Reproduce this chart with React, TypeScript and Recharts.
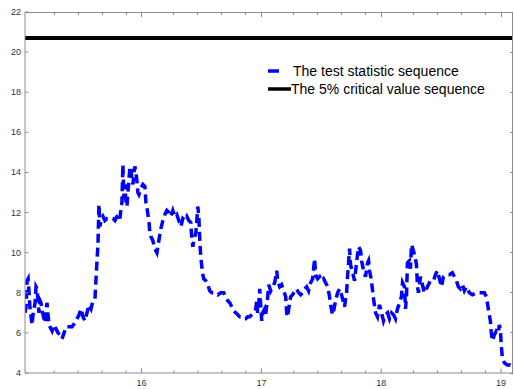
import React from 'react';
import { LineChart, Line, XAxis, YAxis, ReferenceLine } from 'recharts';

// time axis (years, 2-digit) and the test statistic
const years = [
  15.028, 15.036, 15.044, 15.053, 15.061, 15.069, 15.078, 15.086, 15.094, 15.111,
  15.119, 15.128, 15.136, 15.144, 15.153, 15.161, 15.169, 15.178, 15.186, 15.194,
  15.203, 15.211, 15.219, 15.228, 15.236, 15.253, 15.269, 15.286, 15.303, 15.319,
  15.336, 15.353, 15.369, 15.394, 15.419, 15.444, 15.461, 15.478, 15.494, 15.511,
  15.528, 15.544, 15.561, 15.578, 15.594, 15.611, 15.619, 15.628, 15.636, 15.644,
  15.653, 15.661, 15.678, 15.694, 15.711, 15.736, 15.761, 15.778, 15.794, 15.811,
  15.819, 15.828, 15.836, 15.844, 15.853, 15.861, 15.869, 15.878, 15.886, 15.894,
  15.903, 15.911, 15.919, 15.928, 15.936, 15.944, 15.953, 15.961, 15.969, 15.978,
  15.994, 16.011, 16.028, 16.036, 16.044, 16.053, 16.061, 16.069, 16.078, 16.094,
  16.111, 16.128, 16.144, 16.161, 16.178, 16.194, 16.211, 16.228, 16.244, 16.261,
  16.278, 16.294, 16.311, 16.328, 16.344, 16.361, 16.378, 16.394, 16.411, 16.419,
  16.428, 16.436, 16.453, 16.461, 16.469, 16.478, 16.486, 16.494, 16.503, 16.511,
  16.519, 16.536, 16.553, 16.569, 16.586, 16.611, 16.636, 16.661, 16.686, 16.703,
  16.719, 16.736, 16.753, 16.769, 16.786, 16.803, 16.819, 16.836, 16.853, 16.869,
  16.886, 16.903, 16.919, 16.936, 16.953, 16.961, 16.969, 16.978, 16.986, 16.994,
  17.003, 17.011, 17.028, 17.036, 17.053, 17.061, 17.078, 17.094, 17.111, 17.128,
  17.136, 17.153, 17.169, 17.186, 17.203, 17.211, 17.219, 17.228, 17.244, 17.261,
  17.278, 17.294, 17.311, 17.328, 17.344, 17.361, 17.378, 17.394, 17.411, 17.428,
  17.444, 17.453, 17.469, 17.486, 17.503, 17.519, 17.536, 17.553, 17.569, 17.578,
  17.594, 17.603, 17.619, 17.636, 17.653, 17.669, 17.686, 17.694, 17.703, 17.711,
  17.719, 17.728, 17.736, 17.744, 17.761, 17.778, 17.794, 17.811, 17.828, 17.836,
  17.853, 17.869, 17.886, 17.894, 17.903, 17.919, 17.928, 17.936, 17.953, 17.969,
  17.986, 18.003, 18.019, 18.036, 18.053, 18.069, 18.086, 18.103, 18.119, 18.136,
  18.153, 18.169, 18.178, 18.194, 18.203, 18.211, 18.219, 18.236, 18.244, 18.253,
  18.269, 18.286, 18.294, 18.303, 18.311, 18.328, 18.344, 18.361, 18.378, 18.394,
  18.411, 18.436, 18.453, 18.469, 18.486, 18.503, 18.519, 18.544, 18.569, 18.594,
  18.611, 18.628, 18.644, 18.661, 18.678, 18.694, 18.711, 18.736, 18.761, 18.794,
  18.828, 18.861, 18.878, 18.894, 18.911, 18.919, 18.928, 18.944, 18.961, 18.978,
  18.986, 18.994, 19.003, 19.011, 19.028, 19.053, 19.078, 19.094,
];

const testStat = [
  7.0, 7.3, 8.6, 8.7, 8.0, 7.2, 6.8, 6.4, 6.9, 7.5,
  8.3, 8.2, 7.5, 7.0, 7.6, 7.5, 7.1, 6.9, 6.7, 6.5,
  7.2, 7.5, 6.9, 6.4, 6.3, 6.1, 6.4, 6.2, 6.0, 5.9,
  5.7, 6.0, 6.3, 6.3, 6.3, 6.5, 6.7, 6.9, 7.2, 6.8,
  6.6, 7.0, 7.4, 7.2, 7.6, 7.7, 8.6, 9.6, 10.4, 12.4,
  11.3, 11.6, 11.8, 11.6, 11.7, 11.7, 11.7, 11.6, 11.8, 11.9,
  11.7, 12.2, 12.5, 14.4, 12.7, 13.4, 12.6, 12.3, 13.0, 13.6,
  14.3, 14.2, 13.7, 13.4, 14.0, 14.3, 14.0, 13.6, 13.0, 12.9,
  13.2, 13.4, 13.3, 12.5, 12.3, 11.9, 11.6, 11.0, 10.8, 10.6,
  10.2, 10.0, 10.6, 11.2, 11.6, 11.9, 12.1, 12.0, 11.8, 12.1,
  11.8, 11.9, 11.6, 11.3, 11.7, 11.6, 11.8, 11.6, 11.5, 10.7,
  10.3, 10.6, 11.0, 11.6, 12.3, 11.8, 10.6, 9.8, 9.3, 8.9,
  8.7, 8.6, 8.4, 8.1, 8.0, 8.0, 7.9, 8.0, 8.0, 7.8,
  7.6, 7.5, 7.3, 7.1, 7.0, 6.9, 6.8, 6.8, 6.7, 6.7,
  6.8, 6.8, 6.9, 7.0, 7.2, 7.6, 7.0, 7.4, 8.2, 7.4,
  6.6, 7.0, 7.2, 6.9, 7.8, 8.4, 8.1, 8.3, 8.5, 9.1,
  8.6, 8.3, 8.4, 8.1, 7.8, 7.0, 6.8, 7.2, 7.8, 7.9,
  8.1, 8.2, 8.0, 7.9, 8.0, 8.2, 8.3, 8.1, 8.5, 8.7,
  9.7, 8.9, 8.7, 8.8, 8.6, 8.7, 8.5, 8.3, 7.8, 7.4,
  6.9, 7.1, 7.6, 8.0, 8.2, 7.9, 7.5, 7.3, 7.7, 8.0,
  8.8, 9.5, 10.2, 9.4, 9.0, 8.6, 9.5, 10.3, 10.1, 9.6,
  9.1, 8.8, 9.5, 9.6, 9.1, 8.6, 8.1, 7.7, 7.0, 6.8,
  7.4, 7.0, 6.6, 6.9, 7.0, 6.7, 7.0, 6.9, 6.7, 7.2,
  7.5, 7.8, 8.5, 8.3, 7.2, 7.8, 9.5, 9.6, 9.2, 10.4,
  10.1, 9.7, 9.4, 8.3, 8.0, 8.8, 8.4, 8.0, 8.2, 8.4,
  8.6, 8.6, 8.9, 9.1, 8.7, 8.3, 8.8, 8.9, 8.9, 9.0,
  8.8, 8.6, 8.3, 8.2, 8.4, 8.1, 8.3, 8.0, 7.9, 8.0,
  8.0, 8.0, 7.8, 7.2, 6.6, 6.0, 5.6, 5.9, 6.1, 6.0,
  6.4, 6.2, 5.3, 4.8, 4.5, 4.4, 4.4, 4.35,
];

const criticalValue = 20.7;

const yearTicks = [16, 17, 18, 19];
const minorTicks = [
  15.27, 15.47, 15.67, 15.87, 16.27, 16.47, 16.67, 16.87,
  17.27, 17.47, 17.67, 17.87, 18.27, 18.47, 18.67, 18.87,
];
const valueTicks = [4, 6, 8, 10, 12, 14, 16, 18, 20, 22];

const legendNames = ['The test statistic sequence', 'The 5% critical value sequence'];

const X_DOMAIN: [number, number] = [15.027, 19.1];
const Y_DOMAIN: [number, number] = [4, 22];
const data = years.map((x, i) => ({ x, stat: testStat[i] }));
const xTicks = [...minorTicks, ...yearTicks].sort((a, b) => a - b);

const W = 514;
const H = 389;
const MARGIN = { top: 12, right: 1, bottom: 0, left: 0 };
const Y_AXIS_W = 25;
const X_AXIS_H = 16;
// plot rectangle that the margins and axis sizes above leave over
const PLOT = {
  left: MARGIN.left + Y_AXIS_W,
  right: W - MARGIN.right,
  top: MARGIN.top,
  bottom: H - MARGIN.bottom - X_AXIS_H,
};

const AXIS = '#8c8c8c';
const LABEL = '#333333';
const FONT = '"Liberation Sans", Arial, sans-serif';

const BottomTick = (props: any) => {
  const { x, y, payload } = props;
  const major = yearTicks.includes(payload.value);
  return (
    <g>
      <line x1={x} y1={y} x2={x} y2={y - (major ? 4.5 : 2.5)} stroke={AXIS} />
      {major && (
        <text x={x} y={y + 13} textAnchor="middle" fontSize={9} fill={LABEL} fontFamily={FONT}>
          {payload.value}
        </text>
      )}
    </g>
  );
};

const LeftTick = (props: any) => {
  const { x, y, payload } = props;
  return (
    <g>
      <line x1={x} y1={y} x2={x + 3.3} y2={y} stroke={AXIS} />
      <text x={x - 4} y={y + 3} textAnchor="end" fontSize={9} fill={LABEL} fontFamily={FONT}>
        {payload.value}
      </text>
    </g>
  );
};

// top and right edges of the box, with inward ticks mirroring the bottom/left axes
const BoxFrame = () => {
  const px = (t: number) =>
    PLOT.left + ((t - X_DOMAIN[0]) / (X_DOMAIN[1] - X_DOMAIN[0])) * (PLOT.right - PLOT.left);
  const py = (v: number) =>
    PLOT.bottom - ((v - Y_DOMAIN[0]) / (Y_DOMAIN[1] - Y_DOMAIN[0])) * (PLOT.bottom - PLOT.top);
  const top = PLOT.top + 0.5;
  const right = PLOT.right - 0.5;
  return (
    <g stroke={AXIS} strokeWidth={1} fill="none" shapeRendering="crispEdges">
      <line x1={PLOT.left} y1={top} x2={right} y2={top} />
      <line x1={right} y1={top} x2={right} y2={PLOT.bottom} />
      {xTicks.map((t) => (
        <line key={`t${t}`} x1={px(t)} y1={top} x2={px(t)} y2={top + (yearTicks.includes(t) ? 4 : 2.5)} />
      ))}
      {valueTicks.map((v) => (
        <line key={`r${v}`} x1={right} y1={py(v)} x2={right - 3} y2={py(v)} />
      ))}
    </g>
  );
};

const layer: React.CSSProperties = { position: 'absolute', left: 0, top: 0 };

export default function App() {
  return (
    <div style={{ position: 'absolute', left: 0, top: 0, width: W, height: H, background: '#fff' }}>
      <div style={layer}>
        <LineChart width={W} height={H} data={data} margin={MARGIN}>
          <XAxis
            dataKey="x"
            type="number"
            domain={X_DOMAIN}
            allowDataOverflow
            ticks={xTicks}
            interval={0}
            height={X_AXIS_H}
            tickSize={0}
            tickMargin={0}
            tickLine={false}
            axisLine={{ stroke: AXIS }}
            tick={BottomTick}
          />
          <YAxis
            type="number"
            domain={Y_DOMAIN}
            ticks={valueTicks}
            interval={0}
            width={Y_AXIS_W}
            tickSize={0}
            tickMargin={0}
            tickLine={false}
            axisLine={{ stroke: AXIS }}
            tick={LeftTick}
          />
          <ReferenceLine y={criticalValue} stroke="#000" strokeWidth={4} />
          <Line
            type="linear"
            dataKey="stat"
            stroke="#0000ff"
            strokeWidth={3.5}
            strokeDasharray="9 5"
            dot={false}
            isAnimationActive={false}
          />
        </LineChart>
      </div>
      <svg style={layer} width={W} height={H} pointerEvents="none">
        <BoxFrame />
        <line x1={268} y1={71} x2={279} y2={71} stroke="#0000ff" strokeWidth={3.5} />
        <line x1={268} y1={89} x2={291} y2={89} stroke="#000" strokeWidth={3.5} />
      </svg>
      <div style={{ position: 'absolute', left: 293, top: 63, fontFamily: FONT, fontSize: 14, lineHeight: '16px', color: '#000', whiteSpace: 'nowrap' }}>
        {legendNames[0]}
      </div>
      <div style={{ position: 'absolute', left: 291, top: 81, fontFamily: FONT, fontSize: 14, lineHeight: '16px', color: '#000', whiteSpace: 'nowrap' }}>
        {legendNames[1]}
      </div>
    </div>
  );
}
